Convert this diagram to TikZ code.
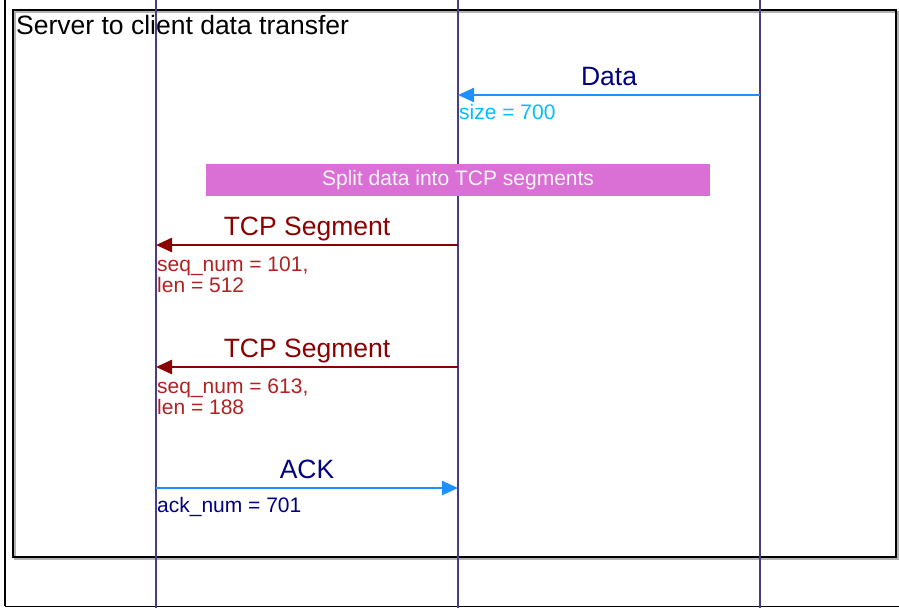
\documentclass[tikz,border=0pt]{standalone}
\usepackage{fontspec}
\setmainfont{Liberation Sans}
\usetikzlibrary{arrows.meta}
\definecolor{lifec}{HTML}{483D8B}
\definecolor{dblue}{HTML}{1E90FF}
\definecolor{skyc}{HTML}{00BFFF}
\definecolor{navyc}{HTML}{000080}
\definecolor{dredc}{HTML}{8B0000}
\definecolor{fbrick}{HTML}{B22222}
\definecolor{orchidc}{HTML}{DA70D6}
\definecolor{boxtext}{HTML}{F5F5F5}
\tikzset{
  lifeline/.style={draw=lifec, line width=1.5pt},
  big/.style={font=\fontsize{26.5}{30}\selectfont, inner sep=0pt, anchor=base},
  small/.style={font=\fontsize{21}{19}\selectfont, inner sep=0pt, anchor=base west, align=left},
  small2/.style={font=\fontsize{21}{18}\selectfont, inner sep=0pt, anchor=north west, align=left},
  msg/.style={line width=2.5pt, -{Triangle[length=16pt,width=14pt]}},
}
\begin{document}
\begin{tikzpicture}[x=1pt,y=-1pt]
\useasboundingbox (0,0) rectangle (899,608);
\clip (0,0) rectangle (899,608);
\fill[white] (0,0) rectangle (899,608);
% outer frame
\draw[black, line width=1pt] (5.5,-10) rectangle (910,606);
\draw[black, line width=2pt] (5,-10) -- (5,606);
% inner frame with shadow
\draw[gray!60, line width=2pt] (14.5,11.5) rectangle (897.5,558.5);
\draw[black, line width=2pt] (13,10) rectangle (896,557);
\node[big, anchor=base west] (title) at (16,34) {Server to client data transfer};
% lifelines
\coordinate (l1t) at (156,0); \coordinate (l1b) at (156,608);
\coordinate (l2t) at (458,0); \coordinate (l2b) at (458,608);
\coordinate (l3t) at (760,0); \coordinate (l3b) at (760,608);
\draw[lifeline] (l1t) -- (l1b);
\draw[lifeline] (l2t) -- (l2b);
\draw[lifeline] (l3t) -- (l3b);
% Data
\coordinate (d1) at (760,95); \coordinate (d2) at (458,95);
\draw[msg, dblue] (d1) -- (d2);
\node[big, text=navyc] (datalbl) at (609,85) {Data};
\node[small, text=skyc] (size) at (459,119) {size = 700};
% split box
\node[fill=orchidc, minimum width=504pt, minimum height=32pt, inner sep=0pt,
      font=\fontsize{21}{24}\selectfont, text=boxtext] (split) at (458,180) {Split data into TCP segments};
% TCP segment 1
\coordinate (s1a) at (458,245); \coordinate (s1b) at (156,245);
\draw[msg, dredc] (s1a) -- (s1b);
\node[big, text=dredc] (seg1) at (307,235) {TCP Segment};
\node[small2, text=fbrick] (seg1l) at (157,257) {seq\_num = 101,\\len = 512};
% TCP segment 2
\coordinate (s2a) at (458,367); \coordinate (s2b) at (156,367);
\draw[msg, dredc] (s2a) -- (s2b);
\node[big, text=dredc] (seg2) at (307,357) {TCP Segment};
\node[small2, text=fbrick] (seg2l) at (157,379) {seq\_num = 613,\\len = 188};
% ACK
\coordinate (a1) at (156,488); \coordinate (a2) at (458,488);
\draw[msg, dblue] (a1) -- (a2);
\node[big, text=navyc] (ack) at (307,478) {ACK};
\node[small, text=navyc] (ackl) at (157,512) {ack\_num = 701};
\end{tikzpicture}
\end{document}
